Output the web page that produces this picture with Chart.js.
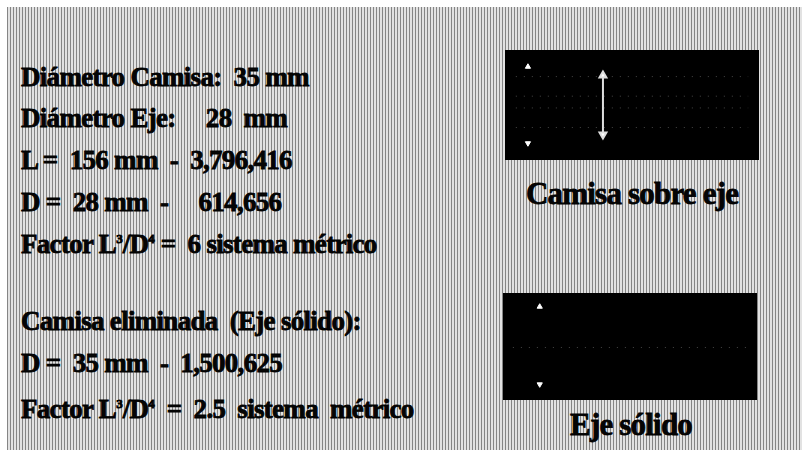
<!DOCTYPE html>
<html>
<head>
<meta charset="utf-8">
<script src="https://cdn.jsdelivr.net/npm/chart.js@4.4.1/dist/chart.umd.min.js"></script>
<style>
  html, body { margin: 0; padding: 0; background: #fff; }
  #page {
    position: relative; width: 802px; height: 450px; overflow: hidden;
    background: #fff;
  }
  #paper {
    position: absolute; left: 7px; top: 7px; right: 0; bottom: 0;
    background: repeating-linear-gradient(90deg, #858585 0 1px, #e2e2e2 1px 3px);
  }
  .txt {
    position: absolute; white-space: pre; color: #050505;
    font-family: "Liberation Serif", "Times New Roman", serif; font-weight: bold;
    font-size: 27px; line-height: 26px; letter-spacing: -0.7px;
    -webkit-text-stroke: 0.8px #000;
  }
  .txt sup { font-size: 13px; line-height: 0; vertical-align: 10px; letter-spacing: 0; }
  .cap { font-size: 31px; line-height: 31px; letter-spacing: -0.8px; }
  .box { position: absolute; }
</style>
</head>
<body>
<div id="page">
  <div id="paper"></div>
  <div id="left"></div>
  <div class="box" style="left:505px; top:50px; width:254px; height:110px;"><canvas id="camisa"></canvas></div>
  <div class="box" style="left:503px; top:293px; width:254px; height:107px;"><canvas id="eje"></canvas></div>
  <div class="txt cap" style="left:526px; top:178px;">Camisa sobre eje</div>
  <div class="txt cap" style="left:570px; top:409px;">Eje sólido</div>
</div>
<script>
// TEXT ROWS (left column)
const rows = [
  "Diámetro Camisa:  35 mm",
  "Diámetro Eje:     28  mm",
  "L =  156 mm  -  3,796,416",
  "D =  28 mm  -     614,656",
  "Factor L<sup>3</sup>/D<sup>4</sup> =  6 sistema métrico",
  "Camisa eliminada  (Eje sólido):",
  "D =  35 mm  -  1,500,625",
  "Factor L<sup>3</sup>/D<sup>4</sup>  =  2.5  sistema  métrico"
];
const rowCenters = [77, 118, 160, 202, 244, 321, 363, 409];

const left = document.getElementById("left");
rows.forEach((r, i) => {
  const d = document.createElement("div");
  d.className = "txt";
  d.style.left = "21px";
  d.style.top = (rowCenters[i] - 13) + "px";
  d.innerHTML = r;
  left.appendChild(d);
});

// DRAWING DATA (0-100 box units)
const camisaLinesY = [79, 59, 47, 27];
const camisaArrowX = [38, 38];
const camisaArrowY = [80, 20];
const camisaMarkX = [7, 7];
const camisaMarkY = [89, 11];

const ejeLinesY = [49];
const ejeMarkX = [13, 13];
const ejeMarkY = [91, 11];

const blackBg = {
  id: "blackBg",
  beforeDraw(chart) {
    const c = chart.ctx;
    c.save();
    c.fillStyle = "#000";
    c.fillRect(0, 0, chart.width, chart.height);
    c.restore();
  }
};

function faintLines(ys) {
  return ys.map(y => ({
    data: [{x: 2, y: y}, {x: 98, y: y}],
    showLine: true, pointRadius: 0,
    borderColor: "rgba(200,200,200,0.35)", borderWidth: 1, borderDash: [1, 7]
  }));
}

function marks(xs, ys, size) {
  return {
    data: xs.map((x, i) => ({x: x, y: ys[i]})),
    showLine: false, pointStyle: "triangle", pointRadius: size,
    rotation: [0, 180], backgroundColor: "#fff", borderColor: "#fff"
  };
}

function makeBox(id, datasets) {
  new Chart(document.getElementById(id), {
    type: "scatter",
    data: { datasets: datasets },
    options: {
      responsive: true, maintainAspectRatio: false, animation: false,
      layout: { padding: 0 },
      plugins: { legend: { display: false }, tooltip: { enabled: false } },
      scales: {
        x: { display: false, min: 0, max: 100 },
        y: { display: false, min: 0, max: 100 }
      }
    },
    plugins: [blackBg]
  });
}

makeBox("camisa", [
  ...faintLines(camisaLinesY),
  Object.assign(marks(camisaArrowX, camisaArrowY, 4), { showLine: true, borderWidth: 2, borderColor: "#ddd" }),
  marks(camisaMarkX, camisaMarkY, 3)
]);

makeBox("eje", [
  ...faintLines(ejeLinesY),
  marks(ejeMarkX, ejeMarkY, 3)
]);
</script>
</body>
</html>
